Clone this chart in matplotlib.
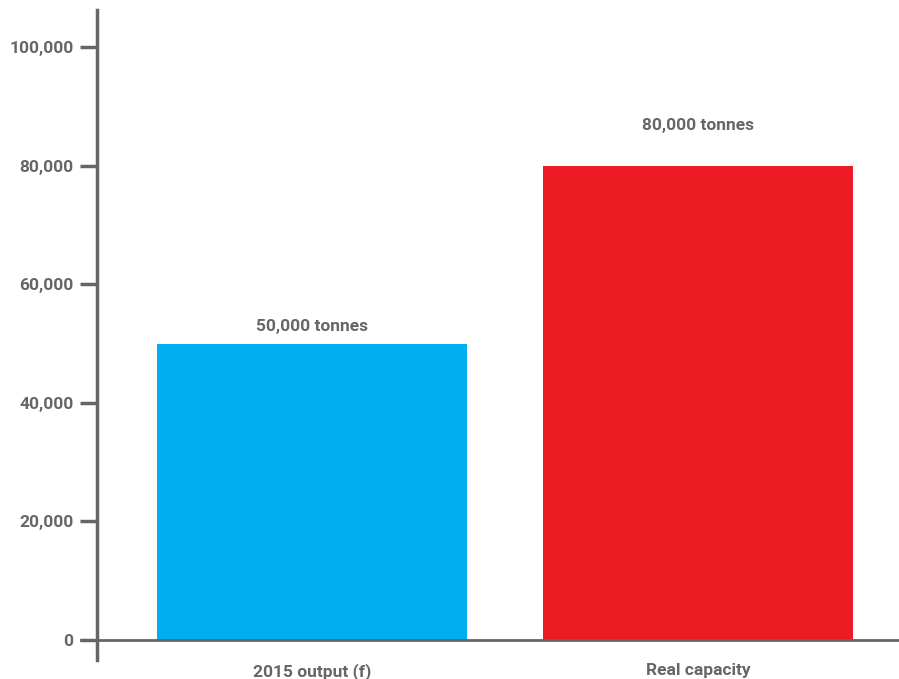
import matplotlib.pyplot as plt

categories = ['2015 output (f)', 'Real capacity']
values = [50000, 80000]
labels = ['50,000 tonnes', '80,000 tonnes']
colors = ['#00AEEF', '#ED1C24']
yticks = [0, 20000, 40000, 60000, 80000, 100000]

plt.rcParams['font.family'] = ['Roboto', 'DejaVu Sans']
grey = '#666666'

fig = plt.figure(figsize=(8.99, 6.79), dpi=100)
ax = fig.add_axes([97 / 899, 1 - 660 / 679, 1 - 97 / 899, 650 / 679])

x = range(len(categories))
ax.bar(x, values, width=0.803, color=colors, zorder=2)

# label offsets (pixels) as in the original
offsets = [17, 40]
for xi, v, lab, off in zip(x, values, labels, offsets):
    ax.annotate(lab, (xi, v), xytext=(0, off), textcoords='offset pixels',
                ha='center', va='center', fontsize=12.5, fontweight='bold',
                color=grey)

ax.axhline(0, color=grey, lw=2, zorder=3, xmin=-0.02, clip_on=False)

ax.set_xlim(-0.557, 1.52)
ax.set_ylim(-3370, 106240)
ax.set_yticks(yticks)
ax.set_yticklabels([f'{t:,}' for t in yticks])
ax.set_xticks(list(x))
ax.set_xticklabels(categories)

for s in ['top', 'right', 'bottom']:
    ax.spines[s].set_visible(False)
ax.spines['left'].set_color(grey)
ax.spines['left'].set_linewidth(2.5)

ax.tick_params(axis='y', length=12, width=2.5, color=grey, labelcolor=grey,
               labelsize=12.5, pad=5)
ax.tick_params(axis='x', length=0, labelcolor=grey, labelsize=12.5, pad=2)
for t in ax.get_xticklabels() + ax.get_yticklabels():
    t.set_fontweight('bold')

fig.savefig('out.png', dpi=100)
